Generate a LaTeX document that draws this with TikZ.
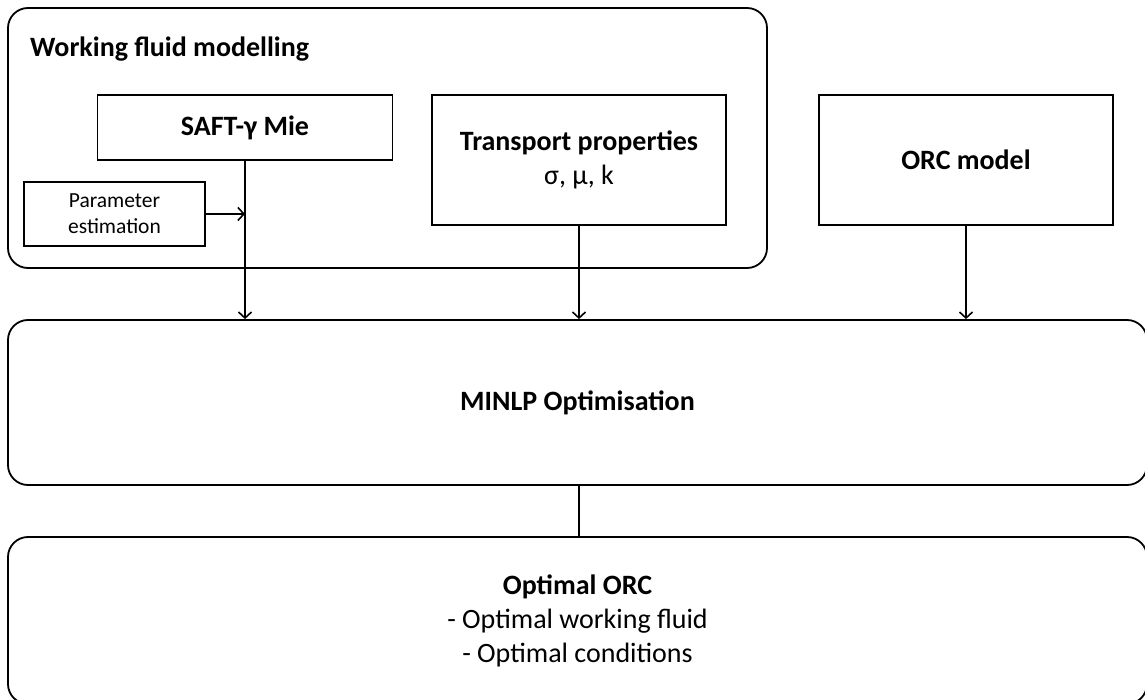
\documentclass[tikz,border=0pt]{standalone}
\usepackage{fontspec}
\setmainfont{Carlito}
\usetikzlibrary{arrows.meta}
\begin{document}
\begin{tikzpicture}[x=1pt,y=-1pt,
  box/.style={draw,line width=1.8pt,rectangle,inner sep=0pt,align=center},
  rbox/.style={box,rounded corners=20pt},
  conn/.style={line width=1.6pt},
  arr/.style={conn,-{Straight Barb[length=6pt,width=13pt,line width=1.6pt]}},
  big/.style={font=\fontsize{28}{34}\selectfont},
  small/.style={font=\fontsize{21.5}{26}\selectfont}]
\useasboundingbox (0,0) rectangle (1145,700);
\node[rbox,minimum width=759pt,minimum height=260pt] (wfm) at (387.5,138) {};
\node[big,anchor=base west,inner sep=0pt] (title) at (30,57) {\bfseries Working fluid modelling};
\node[box,big,minimum width=295pt,minimum height=65pt] (saft) at (245,127.5) {\bfseries SAFT-γ Mie};
\node[box,small,minimum width=181pt,minimum height=64pt] (param) at (114.5,214) {Parameter\\estimation};
\node[box,big,minimum width=294pt,minimum height=130pt] (trans) at (579,160) {\textbf{Transport properties}\\σ, μ, k};
\node[box,big,minimum width=294pt,minimum height=130pt] (orc) at (966,160) {\bfseries ORC model};
\node[rbox,big,minimum width=1139pt,minimum height=165pt] (minlp) at (577.5,402.5) {\bfseries MINLP Optimisation};
\node[rbox,big,minimum width=1139pt,minimum height=167pt] (opt) at (577.5,620.5) {\textbf{Optimal ORC}\\- Optimal working fluid\\- Optimal conditions};
\draw[arr] (saft.south) -- (saft.south |- minlp.north);
\draw[arr] (param.east) -- (param.east -| saft.south);
\draw[arr] (trans.south) -- (trans.south |- minlp.north);
\draw[arr] (orc.south) -- (orc.south |- minlp.north);
\draw[conn] (trans.south |- minlp.south) -- (trans.south |- opt.north);
\end{tikzpicture}
\end{document}
